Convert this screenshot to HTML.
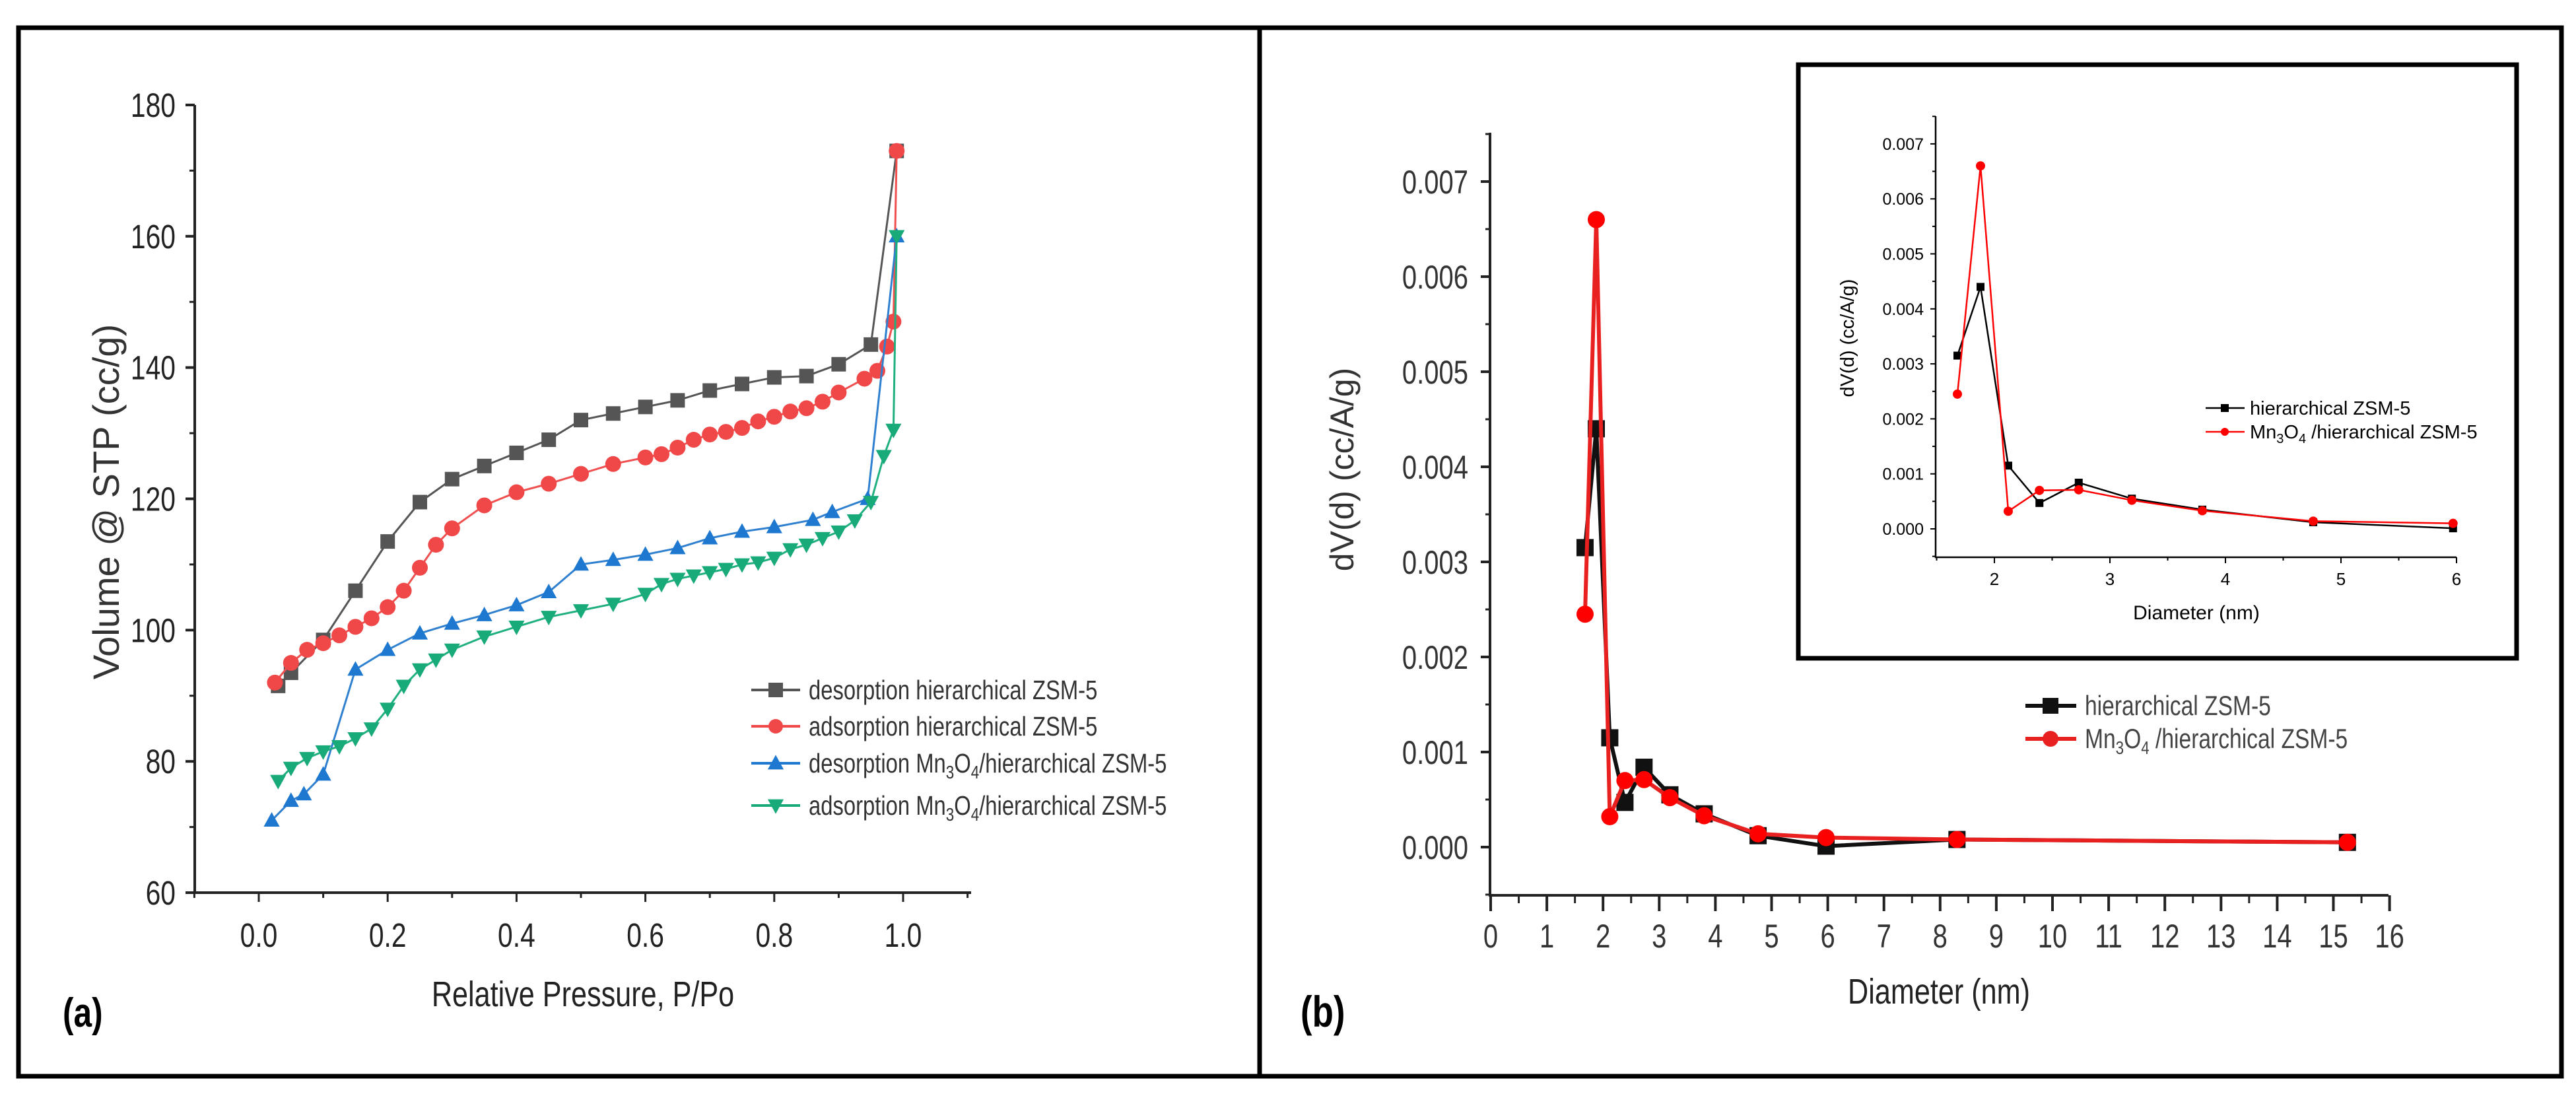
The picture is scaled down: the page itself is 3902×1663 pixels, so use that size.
<!DOCTYPE html>
<html><head><meta charset="utf-8">
<style>
html,body{margin:0;padding:0;background:#fff;}
svg{display:block;}
.n{font-family:"Liberation Sans Narrow","Liberation Sans",sans-serif;}
.r{font-family:"Liberation Sans",sans-serif;}
</style></head>
<body>
<svg id="fig" width="3902" height="1663" viewBox="0 0 3902 1663" xmlns="http://www.w3.org/2000/svg">
<rect x="0" y="0" width="3902" height="1663" fill="#fff"/>
<rect x="28" y="42" width="1880" height="1588" fill="none" stroke="#000" stroke-width="7"/>
<rect x="1908" y="42" width="1972" height="1588" fill="none" stroke="#000" stroke-width="7"/>
<g id="ga"></g><g id="gb"></g><g id="gi"></g>
<text class="n" x="95" y="1555" font-size="62" font-weight="bold">(a)</text>
<text class="n" x="1970" y="1555" font-size="66" font-weight="bold">(b)</text>
<text class="n" x="883" y="1524" font-size="54" fill="#222" text-anchor="middle">Relative Pressure, P/Po</text>
<text class="r" transform="translate(180,760) rotate(-90)" font-size="56" fill="#333" text-anchor="middle">Volume @ STP (cc/g)</text>
<text class="n" x="2937" y="1520" font-size="54" fill="#222" text-anchor="middle">Diameter (nm)</text>
<text class="r" transform="translate(2050,711) rotate(-90)" font-size="50" fill="#333" text-anchor="middle">dV(d) (cc/A/g)</text>
<rect x="2724" y="98" width="1088" height="899" fill="#fff" stroke="#000" stroke-width="7"/>
<text class="r" x="3327" y="938" font-size="30" text-anchor="middle">Diameter (nm)</text>
<text class="r" transform="translate(2808,512) rotate(-90)" font-size="29" text-anchor="middle">dV(d) (cc/A/g)</text>
<g id="gi2"></g>
</svg>
<script>
// ---- Panel (a) data ----
const aDesX=[0.03,0.05,0.1,0.15,0.2,0.25,0.3,0.35,0.4,0.45,0.5,0.55,0.6,0.65,0.7,0.75,0.8,0.85,0.9,0.95,0.99];
const aDesY=[91.5,93.5,98.5,106,113.5,119.5,123,125,127,129,132,133,134,135,136.5,137.5,138.5,138.7,140.5,143.5,173];
const aAdsX=[0.025,0.05,0.075,0.1,0.125,0.15,0.175,0.2,0.225,0.25,0.275,0.3,0.35,0.4,0.45,0.5,0.55,0.6,0.625,0.65,0.675,0.7,0.725,0.75,0.775,0.8,0.825,0.85,0.875,0.9,0.94,0.96,0.975,0.985,0.99];
const aAdsY=[92,95,97,98,99.2,100.5,101.8,103.5,106,109.5,113,115.5,119,121,122.3,123.8,125.3,126.3,126.8,127.8,129,129.8,130.2,130.8,131.8,132.5,133.3,133.8,134.8,136.2,138.3,139.5,143.2,147,173];
const mDesX=[0.02,0.05,0.07,0.1,0.15,0.2,0.25,0.3,0.35,0.4,0.45,0.5,0.55,0.6,0.65,0.7,0.75,0.8,0.86,0.89,0.945,0.99];
const mDesY=[71,74,75,78,94,97,99.5,101,102.3,103.8,105.8,110,110.7,111.5,112.5,114,115,115.7,116.8,118,120,160];
const mAdsX=[0.03,0.05,0.075,0.1,0.125,0.15,0.175,0.2,0.225,0.25,0.275,0.3,0.35,0.4,0.45,0.5,0.55,0.6,0.625,0.65,0.675,0.7,0.725,0.75,0.775,0.8,0.825,0.85,0.875,0.9,0.925,0.95,0.97,0.985,0.99];
const mAdsY=[77,79,80.5,81.5,82.3,83.5,85,88,91.5,94,95.5,97,99,100.5,102,103,104,105.5,107,107.8,108.3,108.8,109.3,110,110.3,111,112.3,113,114,115,116.7,119.5,126.5,130.5,160];
const aXTicks=["0.0","0.2","0.4","0.6","0.8","1.0"];
const aYTicks=["60","80","100","120","140","160","180"];
// ---- Panel (b) data ----
const bX=[1.68,1.88,2.12,2.39,2.73,3.19,3.8,4.76,5.97,8.3,15.25];
const bHier=[0.00315,0.0044,0.00115,0.00047,0.00084,0.00055,0.00035,0.00012,0.00001,0.00008,0.00005];
const bMn=[0.00245,0.0066,0.00032,0.0007,0.00071,0.00052,0.00033,0.00014,0.0001,0.00008,0.00005];
const bYTicks=["0.000","0.001","0.002","0.003","0.004","0.005","0.006","0.007"];
const bXTicks=["0","1","2","3","4","5","6","7","8","9","10","11","12","13","14","15","16"];
const iXTicks=["2","3","4","5","6"];

const NS="http://www.w3.org/2000/svg";
function mk(p,tag,at){const e=document.createElementNS(NS,tag);for(const k in at)e.setAttribute(k,at[k]);p.appendChild(e);return e;}
function txt(p,x,y,s,cls,fs,anchor,fill){const t=mk(p,'text',{x:x,y:y,class:cls,'font-size':fs,'text-anchor':anchor,fill:fill||'#222'});t.textContent=s;return t;}

// Panel a axes
const ga=document.getElementById('ga');
const ax=v=>392+976*v, ay=v=>1352-(v-60)*(1193/120);
let e;
e=mk(ga,'path',{d:'M295,159 V1352 H1471',fill:'none',stroke:'#222','stroke-width':4});


for(let i=0;i<aYTicks.length;i++){const v=+aYTicks[i];const y=ay(v);mk(ga,'line',{x1:281,x2:295,y1:y,y2:y,stroke:'#222','stroke-width':4});
 if(i<aYTicks.length-1){const y2=ay(v+10);mk(ga,'line',{x1:287,x2:295,y1:y2,y2:y2,stroke:'#222','stroke-width':3});}
 e=txt(ga,266,y+18,aYTicks[i],'n',51,'end');
 
 }
for(let k=-1;k<=11;k++){const x=ax(k/10);mk(ga,'line',{x1:x,x2:x,y1:1352,y2:k%2===0?1366:1360,stroke:'#222','stroke-width':3});}
for(let i=0;i<aXTicks.length;i++){const x=ax(+aXTicks[i]);e=txt(ga,x,1434,aXTicks[i],'n',51,'middle');
 
 }
function marker(p,shape,x,y,s,col){
 if(shape==='sq')return mk(p,'rect',{x:x-s,y:y-s,width:2*s,height:2*s,fill:col});
 if(shape==='ci')return mk(p,'circle',{cx:x,cy:y,r:s,fill:col});
 if(shape==='up')return mk(p,'path',{d:`M${x},${y-s*1.15} L${x+s*1.1},${y+s*0.85} L${x-s*1.1},${y+s*0.85}Z`,fill:col});
 if(shape==='dn')return mk(p,'path',{d:`M${x},${y+s*1.15} L${x+s*1.1},${y-s*0.85} L${x-s*1.1},${y-s*0.85}Z`,fill:col});
}
function series(p,xs,ys,fx,fy,lc,mc,shape,s,lw,name){
 const g=mk(p,'g',{});
 
 
 mk(g,'polyline',{points:xs.map((x,i)=>fx(x)+','+fy(ys[i])).join(' '),fill:'none',stroke:lc,'stroke-width':lw,'stroke-linejoin':'round'});
 xs.forEach((x,i)=>{const m=marker(g,shape,fx(x),fy(ys[i]),s,mc);
  
  });
}
series(ga,aDesX,aDesY,ax,ay,'#555','#555','sq',11,3,'series-desorption-zsm5');
series(ga,aAdsX,aAdsY,ax,ay,'#f05050','#f04848','ci',12,3,'series-adsorption-zsm5');
series(ga,mDesX,mDesY,ax,ay,'#3080d0','#1e78d0','up',11,3,'series-desorption-mn3o4');
series(ga,mAdsX,mAdsY,ax,ay,'#20b080','#18aa78','dn',11,3,'series-adsorption-mn3o4');
// legend a
const legA=[['desorption hierarchical ZSM-5','#555','sq',null],['adsorption hierarchical ZSM-5','#f04848','ci',null],['desorption Mn','#1e78d0','up','/hierarchical ZSM-5'],['adsorption Mn','#18aa78','dn','/hierarchical ZSM-5']];
const legAY=[1045,1100,1156,1220];
legA.forEach((L,i)=>{const g=mk(ga,'g',{});
 
 
 const y=legAY[i];mk(g,'line',{x1:1138,x2:1212,y1:y,y2:y,stroke:L[1],'stroke-width':4});marker(g,L[2],1175,y,11,L[1]);
 const t=mk(g,'text',{x:1225,y:y+14,class:'n','font-size':41,fill:'#333'});
 if(L[3]){t.innerHTML=`${L[0]}<tspan font-size="28" dy="9">3</tspan><tspan dy="-9">O</tspan><tspan font-size="28" dy="9">4</tspan><tspan dy="-9">${L[3]}</tspan>`;}else t.textContent=L[0];});

// Panel b main
const gb=document.getElementById('gb');
const bx=v=>2258+85.1*v, by=v=>1283-v*144000;
e=mk(gb,'path',{d:'M2257,201 V1356 H3618',fill:'none',stroke:'#222','stroke-width':4});


for(let i=0;i<bYTicks.length;i++){const y=by(+bYTicks[i]);mk(gb,'line',{x1:2243,x2:2257,y1:y,y2:y,stroke:'#222','stroke-width':4});
 const ym=by(+bYTicks[i]+0.0005);mk(gb,'line',{x1:2250,x2:2257,y1:ym,y2:ym,stroke:'#222','stroke-width':3});
 e=txt(gb,2224,y+18,bYTicks[i],'n',50,'end','#333');
 
 }
{const ym=by(-0.0005);mk(gb,'line',{x1:2250,x2:2257,y1:ym,y2:ym,stroke:'#222','stroke-width':3});}
for(let i=0;i<bXTicks.length;i++){const x=bx(+bXTicks[i]);mk(gb,'line',{x1:x,x2:x,y1:1356,y2:1380,stroke:'#222','stroke-width':4});
 if(i<bXTicks.length-1){const xm=bx(+bXTicks[i]+0.5);mk(gb,'line',{x1:xm,x2:xm,y1:1356,y2:1368,stroke:'#222','stroke-width':3});}
 e=txt(gb,x,1435,bXTicks[i],'n',50,'middle','#333');
 
 }
series(gb,bX,bHier,bx,by,'#111','#111','sq',13,6,'series-b-hierarchical');
series(gb,bX,bMn,bx,by,'#e82020','#f00','ci',13,6,'series-b-mn3o4');
// legend b
[[1069,'#111','sq','hierarchical ZSM-5',false],[1119,'#e82020','ci','',true]].forEach(L=>{const g=mk(gb,'g',{});
 
 
 mk(g,'line',{x1:3068,x2:3145,y1:L[0],y2:L[0],stroke:L[1],'stroke-width':6});marker(g,L[2],3106,L[0],12,L[1]);
 const t=mk(g,'text',{x:3158,y:L[0]+14,class:'n','font-size':42,fill:'#444'});
 if(L[4])t.innerHTML='Mn<tspan font-size="28" dy="9">3</tspan><tspan dy="-9">O</tspan><tspan font-size="28" dy="9">4</tspan><tspan dy="-9"> /hierarchical ZSM-5</tspan>';else t.textContent=L[3];});

// Inset
const gi=document.getElementById('gi2');
const ix=v=>3021+175*(v-2), iy=v=>801-v*83300;
e=mk(gi,'path',{d:'M2932,176 V844 H3721',fill:'none',stroke:'#000','stroke-width':2.5});


for(let i=0;i<bYTicks.length;i++){const y=iy(+bYTicks[i]);mk(gi,'line',{x1:2924,x2:2932,y1:y,y2:y,stroke:'#000','stroke-width':2});
 const ym=iy(+bYTicks[i]+0.0005);mk(gi,'line',{x1:2927,x2:2932,y1:ym,y2:ym,stroke:'#000','stroke-width':2});
 e=txt(gi,2914,y+9,bYTicks[i],'r',25,'end','#000');
 
 }
{const ym=iy(-0.0005);mk(gi,'line',{x1:2927,x2:2932,y1:ym,y2:ym,stroke:'#000','stroke-width':2});}
for(let v=1.5;v<=6.01;v+=0.5){const x=ix(v);const maj=Math.abs(v-Math.round(v))<0.01;mk(gi,'line',{x1:x,x2:x,y1:844,y2:maj?853:849,stroke:'#000','stroke-width':2});}
iXTicks.forEach(s=>{e=txt(gi,ix(+s),886,s,'r',26,'middle','#000');
 
 });
const iXs=bX.filter(x=>x<=6.1);
series(gi,iXs,bHier.slice(0,iXs.length),ix,iy,'#000','#000','sq',6,2.5,'inset-series-hierarchical');
series(gi,iXs,bMn.slice(0,iXs.length),ix,iy,'#f00','#f00','ci',7,2.5,'inset-series-mn3o4');
[[618,'#000','sq',false],[654,'#f00','ci',true]].forEach(L=>{const g=mk(gi,'g',{});
 
 
 mk(g,'line',{x1:3341,x2:3400,y1:L[0],y2:L[0],stroke:L[1],'stroke-width':2.5});marker(g,L[2],3370,L[0],6,L[1]);
 const t=mk(g,'text',{x:3408,y:L[0]+10,class:'r','font-size':29,fill:'#000'});
 if(L[3])t.innerHTML='Mn<tspan font-size="20" dy="7">3</tspan><tspan dy="-7">O</tspan><tspan font-size="20" dy="7">4</tspan><tspan dy="-7"> /hierarchical ZSM-5</tspan>';else t.textContent='hierarchical ZSM-5';});

// Condense "narrow" texts horizontally (Arial Narrow look)
document.querySelectorAll('text.n').forEach(t=>{
 const x=+t.getAttribute('x'), y=+t.getAttribute('y');
 t.setAttribute('x',0);t.setAttribute('y',0);
 t.setAttribute('transform',`translate(${x},${y}) scale(0.8,1)`);
});
</script>
</body></html>
